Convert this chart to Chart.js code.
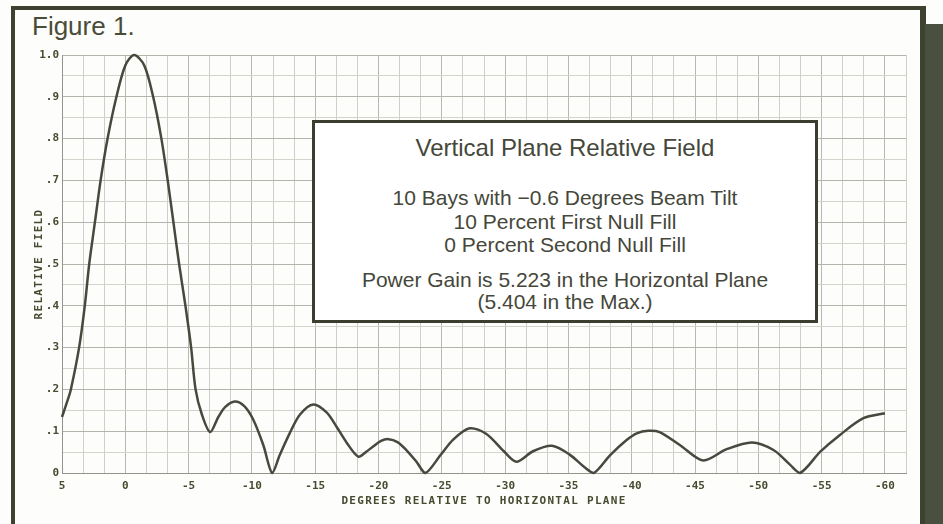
<!DOCTYPE html>
<html>
<head>
<meta charset="utf-8">
<script src="https://cdn.jsdelivr.net/npm/chart.js@4/dist/chart.umd.min.js"></script>
<style>
  html, body { margin:0; padding:0; }
  body { width:943px; height:524px; overflow:hidden; position:relative; background:#fdfdfb; font-family:"Liberation Sans", Arial, sans-serif; }
  .frame { position:absolute; background:#3d4230; }
  #strip { position:absolute; left:925px; top:24px; width:18px; height:500px; background:#4a5040; }
  #c { position:absolute; left:0; top:0; }
  #fig { position:absolute; left:32px; top:13px; font-size:26px; line-height:26px; color:#4a4c3a; white-space:nowrap; }
  #box { position:absolute; left:312px; top:120px; width:500px; height:197px; border:3px solid #3b3e2e; background:#fff; }
  .ln { position:absolute; left:312px; width:506px; text-align:center; color:#45473a; white-space:nowrap; }
</style>
</head>
<body>
<div class="frame" style="left:11px;top:6px;width:4px;height:518px;"></div>
<div class="frame" style="left:11px;top:6px;width:915px;height:4px;"></div>
<div class="frame" style="left:920px;top:6px;width:6px;height:518px;"></div>
<div id="strip"></div>
<div id="fig">Figure 1.</div>
<canvas id="c" width="943" height="524"></canvas>
<div id="box"></div>
<div class="ln" style="top:136px;font-size:24px;line-height:24px;">Vertical Plane Relative Field</div>
<div class="ln" style="top:187px;font-size:21px;line-height:21px;">10 Bays with &minus;0.6 Degrees Beam Tilt</div>
<div class="ln" style="top:211px;font-size:21px;line-height:21px;">10 Percent First Null Fill</div>
<div class="ln" style="top:234px;font-size:21px;line-height:21px;">0 Percent Second Null Fill</div>
<div class="ln" style="top:269px;font-size:21px;line-height:21px;">Power Gain is 5.223 in the Horizontal Plane</div>
<div class="ln" style="top:291px;font-size:21px;line-height:21px;">(5.404 in the Max.)</div>
<script>
// ---- data ----
const degrees = [5, 4.6, 4.3, 3.65, 3.2, 2.85, 2.4, 1.95, 1.4, 0.7, 0, -0.7, -1.5, -2.2, -2.85, -3.35, -3.8, -4.25, -4.75, -5.2, -5.55, -6.05, -6.7,
  -7.35, -7.9, -8.65, -9.4, -10.1, -10.9, -11.6,
  -12.2, -13.0, -13.8, -14.85, -15.9, -16.7, -17.5, -18.4,
  -19.0, -19.6, -20.2, -20.8, -21.5, -22.2, -23.0, -23.7,
  -24.9, -25.9, -27.2, -28.5, -29.9, -30.9,
  -32.2, -33.7, -35.1, -36.3, -37.0,
  -38.3, -39.6, -40.4, -41.3, -42.2, -43.8, -45.65,
  -47.5, -49.5, -51.2, -52.5, -53.3,
  -54.9, -56.45, -58.3, -60];
const field = [0.134, 0.17, 0.20, 0.30, 0.40, 0.50, 0.60, 0.70, 0.80, 0.90, 0.975, 1.0, 0.975, 0.90, 0.80, 0.70, 0.60, 0.50, 0.40, 0.30, 0.20, 0.14, 0.098,
  0.134, 0.158, 0.171, 0.160, 0.128, 0.067, 0.0,
  0.043, 0.096, 0.140, 0.164, 0.145, 0.110, 0.072, 0.039,
  0.050, 0.064, 0.077, 0.081, 0.074, 0.055, 0.027, 0.0,
  0.043, 0.080, 0.107, 0.094, 0.052, 0.027,
  0.052, 0.065, 0.044, 0.013, 0.0,
  0.043, 0.079, 0.095, 0.101, 0.098, 0.067, 0.03,
  0.057, 0.073, 0.055, 0.02, 0.0,
  0.051, 0.091, 0.131, 0.143];
const xTickValues = [5, 0, -5, -10, -15, -20, -25, -30, -35, -40, -45, -50, -55, -60];
const xTickLabels = ['5', '0', '-5', '-10', '-15', '-20', '-25', '-30', '-35', '-40', '-45', '-50', '-55', '-60'];
const yTickValues = [0, 0.1, 0.2, 0.3, 0.4, 0.5, 0.6, 0.7, 0.8, 0.9, 1.0];
const yTickLabels = ['0', '.1', '.2', '.3', '.4', '.5', '.6', '.7', '.8', '.9', '1.0'];
const xTitle = 'DEGREES RELATIVE TO HORIZONTAL PLANE';
const yTitle = 'RELATIVE FIELD';

const INK = '#474b30';
const tickFont = { family: '"DejaVu Sans Mono", monospace', size: 11, weight: 'bold' };

function labelFor(values, labels, v) {
  for (let i = 0; i < values.length; i++) if (Math.abs(values[i] - v) < 1e-6) return labels[i];
  return '';
}
function isMajor(values, v) { return values.some(t => Math.abs(t - v) < 1e-6); }

const axisTitles = {
  id: 'axisTitles',
  afterDraw(chart) {
    const { ctx, chartArea: a } = chart;
    ctx.save();
    ctx.fillStyle = INK;
    ctx.font = 'bold 11px "DejaVu Sans Mono", monospace';
    if ('letterSpacing' in ctx) ctx.letterSpacing = '1.3px';
    ctx.textAlign = 'center';
    ctx.textBaseline = 'middle';
    ctx.fillText(xTitle, (a.left + a.right) / 2, a.bottom + 28);
    ctx.translate(a.left - 23, (a.top + a.bottom) / 2);
    ctx.rotate(-Math.PI / 2);
    ctx.fillText(yTitle, 0, 0);
    ctx.restore();
  }
};

new Chart(document.getElementById('c'), {
  type: 'line',
  data: {
    datasets: [{
      data: degrees.map((d, i) => ({ x: d, y: field[i] })),
      borderColor: '#48483f',
      borderWidth: 2.5,
      pointRadius: 0,
      tension: 0.3,
      fill: false,
      clip: false
    }]
  },
  options: {
    responsive: false,
    devicePixelRatio: 1,
    animation: false,
    events: [],
    layout: { padding: { left: 30, right: 37, top: 55, bottom: 0 } },
    plugins: { legend: { display: false }, tooltip: { enabled: false } },
    scales: {
      x: {
        type: 'linear',
        reverse: true,
        min: 5 - 40 * 5 / 3,
        max: 5,
        afterBuildTicks: s => {
          const t = [];
          for (let k = 0; k <= 40; k++) t.push({ value: 5 - k * 5 / 3 });
          s.ticks = t;
        },
        afterFit: s => { s.height = 51; },
        ticks: {
          autoSkip: false, maxRotation: 0, padding: 7, color: INK, font: tickFont,
          callback: v => labelFor(xTickValues, xTickLabels, v)
        },
        grid: {
          drawTicks: false,
          color: c => (c.tick && isMajor(xTickValues, c.tick.value)) ? '#b8b8b0' : '#cfcfc8',
          lineWidth: 1
        },
        border: { display: true, color: '#94948c', width: 1 }
      },
      y: {
        type: 'linear',
        min: 0,
        max: 1,
        afterBuildTicks: s => {
          const t = [];
          for (let k = 0; k <= 20; k++) t.push({ value: k * 0.05 });
          s.ticks = t;
        },
        afterFit: s => { s.width = 32; },
        ticks: {
          autoSkip: false, padding: 3, color: INK, font: tickFont,
          callback: v => labelFor(yTickValues, yTickLabels, v)
        },
        grid: {
          drawTicks: false,
          color: c => (c.tick && isMajor(yTickValues, c.tick.value)) ? '#b4b4ac' : '#d3d3cc',
          lineWidth: 1
        },
        border: { display: true, color: '#94948c', width: 1 }
      }
    }
  },
  plugins: [axisTitles]
});
</script>
</body>
</html>
